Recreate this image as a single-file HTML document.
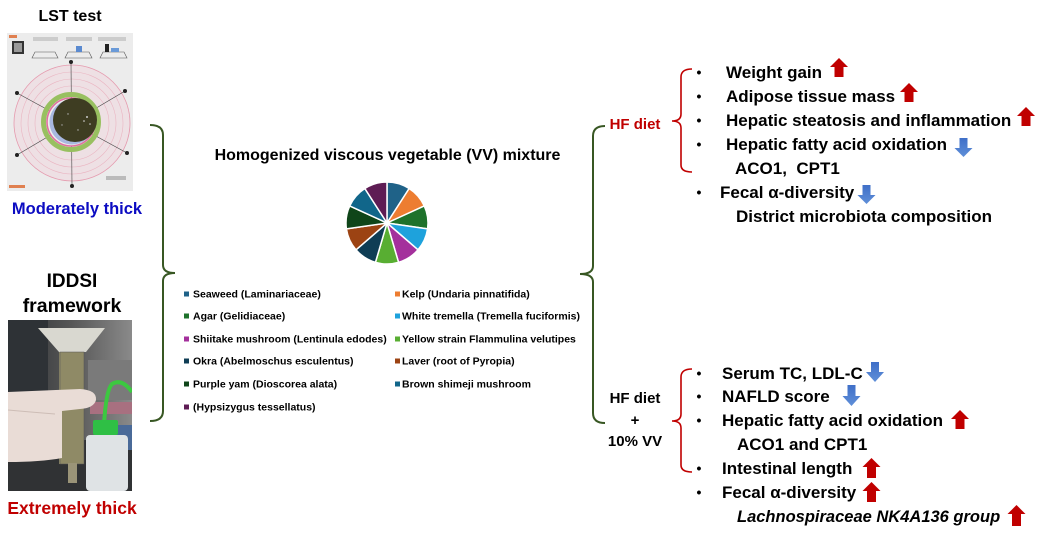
<!DOCTYPE html>
<html><head><meta charset="utf-8">
<style>
html,body{margin:0;padding:0;background:#fff;}
svg{display:block;}
text{font-family:"Liberation Sans",Arial,sans-serif;font-weight:bold;}
</style></head>
<body>
<svg width="1039" height="535" viewBox="0 0 1039 535" xmlns="http://www.w3.org/2000/svg">
<defs>
<clipPath id="c1"><rect x="7" y="33" width="126" height="158"/></clipPath>
<clipPath id="c2"><rect x="8" y="320" width="124" height="171"/></clipPath>
<linearGradient id="bg2" x1="0" y1="0" x2="1" y2="0">
<stop offset="0" stop-color="#2c3034"/><stop offset="0.5" stop-color="#555"/><stop offset="1" stop-color="#8a8a8a"/>
</linearGradient>
<linearGradient id="bd" x1="0" y1="0" x2="0" y2="1">
<stop offset="0" stop-color="#3f6fc8"/><stop offset="1" stop-color="#5f8fd8"/>
</linearGradient>
</defs>

<!-- LST photo -->
<g clip-path="url(#c1)">
<rect x="7" y="33" width="126" height="158" fill="#ececec"/>
<rect x="9" y="35" width="8" height="3" fill="#e08050"/>
<rect x="12" y="41" width="12" height="13" fill="#333"/>
<rect x="14" y="43" width="8" height="9" fill="#999"/>
<polygon points="32,58 58,58 55,52 35,52" fill="none" stroke="#555" stroke-width="0.6"/>
<polygon points="65,58 92,58 89,52 68,52" fill="none" stroke="#555" stroke-width="0.6"/>
<polygon points="100,58 127,58 124,52 103,52" fill="none" stroke="#555" stroke-width="0.6"/>
<rect x="76" y="46" width="6" height="6" fill="#5a8ad0"/>
<rect x="105" y="44" width="4" height="8" fill="#222"/>
<rect x="111" y="48" width="8" height="4" fill="#6a9ad8"/>
<rect x="33" y="37" width="25" height="4" fill="#ccc"/>
<rect x="66" y="37" width="26" height="4" fill="#ccc"/>
<rect x="98" y="37" width="28" height="4" fill="#ccc"/>
<circle cx="72" cy="123" r="58" fill="#eee0e4" stroke="#e59aae" stroke-width="0.8"/>
<circle cx="72" cy="123" r="51" fill="none" stroke="#eab5c2" stroke-width="0.6"/>
<circle cx="72" cy="123" r="44" fill="none" stroke="#eab5c2" stroke-width="0.6"/>
<circle cx="72" cy="123" r="37" fill="none" stroke="#eab5c2" stroke-width="0.6"/>
<line x1="71" y1="62" x2="72" y2="186" stroke="#444" stroke-width="0.6"/>
<line x1="17" y1="93" x2="127" y2="153" stroke="#444" stroke-width="0.6"/>
<line x1="17" y1="155" x2="125" y2="91" stroke="#444" stroke-width="0.6"/>
<circle cx="71" cy="62" r="2" fill="#222"/>
<circle cx="72" cy="186" r="2" fill="#222"/>
<circle cx="17" cy="93" r="2" fill="#222"/>
<circle cx="125" cy="91" r="2" fill="#222"/>
<circle cx="17" cy="155" r="2" fill="#222"/>
<circle cx="127" cy="153" r="2" fill="#222"/>
<circle cx="71" cy="122" r="27.5" fill="none" stroke="#98c060" stroke-width="5"/>
<circle cx="71" cy="122" r="24" fill="#eee" stroke="#e070a0" stroke-width="1.6"/>
<circle cx="72" cy="122" r="22.5" fill="#a8b8e0"/>
<ellipse cx="75" cy="120" rx="22" ry="22" fill="#3e3d22"/>
<circle cx="87" cy="117" r="1" fill="#ccc"/><circle cx="84" cy="121" r="0.8" fill="#ddd"/>
<circle cx="90" cy="124" r="0.8" fill="#ccc"/><circle cx="68" cy="114" r="0.7" fill="#bbb"/>
<circle cx="62" cy="125" r="0.7" fill="#aaa"/><circle cx="78" cy="130" r="0.7" fill="#bbb"/>
<rect x="9" y="185" width="16" height="3" fill="#e08050"/>
<rect x="106" y="176" width="20" height="4" fill="#bbb"/>
</g>

<!-- IDDSI photo -->
<g clip-path="url(#c2)">
<rect x="8" y="320" width="124" height="171" fill="url(#bg2)"/>
<rect x="8" y="320" width="40" height="171" fill="#2e3236"/>
<rect x="8" y="440" width="124" height="51" fill="#303234"/>
<rect x="90" y="402" width="42" height="12" fill="#a87080"/>
<rect x="88" y="360" width="44" height="40" fill="#7a7a7a"/>
<rect x="115" y="425" width="17" height="25" fill="#4a6a98"/>
<path d="M38,328 L105,328 L86,352 L59,352 Z" fill="#d9d8d0"/>
<rect x="59" y="352" width="25" height="112" fill="#8f8a66"/>
<rect x="60" y="352" width="24" height="112" fill="none" stroke="#555" stroke-width="0.5"/>
<rect x="68" y="463" width="9" height="20" fill="#9a9478"/>
<path d="M8,392 L80,389 Q97,390 96,400 Q94,408 80,409 L62,411 L62,458 Q40,462 8,462 Z" fill="#e9dcd6"/>
<path d="M8,410 Q30,412 55,414" fill="none" stroke="#cdbdb6" stroke-width="1"/>
<path d="M104,425 Q106,390 112,384 Q122,378 132,392" fill="none" stroke="#3cc840" stroke-width="4"/>
<rect x="93" y="420" width="25" height="15" rx="2" fill="#2fbf45"/>
<rect x="86" y="435" width="42" height="56" rx="4" fill="#dfe3e5"/>
</g>

<!-- Left labels -->
<text x="70" y="21" font-size="16" text-anchor="middle" fill="#000">LST test</text>
<text x="77" y="214" font-size="16.5" text-anchor="middle" fill="#0c0cc2">Moderately thick</text>
<text x="72" y="287" font-size="19" text-anchor="middle" fill="#000">IDDSI</text>
<text x="72" y="312" font-size="19.5" text-anchor="middle" fill="#000">framework</text>
<text x="72" y="514" font-size="17.5" text-anchor="middle" fill="#c00000">Extremely thick</text>

<!-- Green brackets -->
<path d="M150,125 Q163,125 163,135 L163,265 Q163,273 175,273 Q163,273 163,281 L163,411 Q163,421 150,421" fill="none" stroke="#385723" stroke-width="2"/>
<path d="M605,126 Q593,126 593,136 L593,266 Q593,274 580,274 Q593,274 593,282 L593,413 Q593,423 605,423" fill="none" stroke="#385723" stroke-width="2"/>

<!-- Title -->
<text x="387.5" y="160" font-size="16" text-anchor="middle" fill="#000">Homogenized viscous vegetable (VV) mixture</text>

<!-- Pie -->
<g stroke="#fff" stroke-width="1.5" stroke-linejoin="round">
<path d="M387,223 L387,182 A41,41 0 0 1 409.16,188.51 Z" fill="#1f6288"/>
<path d="M387,223 L409.16,188.51 A41,41 0 0 1 424.29,205.97 Z" fill="#ed7d31"/>
<path d="M387,223 L424.29,205.97 A41,41 0 0 1 427.58,228.83 Z" fill="#1e722b"/>
<path d="M387,223 L427.58,228.83 A41,41 0 0 1 417.98,249.85 Z" fill="#1ea2dc"/>
<path d="M387,223 L417.98,249.85 A41,41 0 0 1 398.55,262.34 Z" fill="#a4309c"/>
<path d="M387,223 L398.55,262.34 A41,41 0 0 1 375.45,262.34 Z" fill="#58ae32"/>
<path d="M387,223 L375.45,262.34 A41,41 0 0 1 356.02,249.85 Z" fill="#0f3d55"/>
<path d="M387,223 L356.02,249.85 A41,41 0 0 1 346.42,228.83 Z" fill="#9c4313"/>
<path d="M387,223 L346.42,228.83 A41,41 0 0 1 349.71,205.97 Z" fill="#0f4519"/>
<path d="M387,223 L349.71,205.97 A41,41 0 0 1 364.84,188.51 Z" fill="#11668a"/>
<path d="M387,223 L364.84,188.51 A41,41 0 0 1 387,182 Z" fill="#5e1c54"/>
</g>

<!-- Legend -->
<g font-size="10.5" fill="#000">
<rect x="184" y="291.5" width="5" height="5" fill="#1f6288"/><text x="193" y="297.5">Seaweed (Laminariaceae)</text>
<rect x="184" y="313.5" width="5" height="5" fill="#1e722b"/><text x="193" y="319.5">Agar (Gelidiaceae)</text>
<rect x="184" y="336.5" width="5" height="5" fill="#a4309c"/><text x="193" y="342.5">Shiitake mushroom (Lentinula edodes)</text>
<rect x="184" y="358.5" width="5" height="5" fill="#0f3d55"/><text x="193" y="364.5">Okra (Abelmoschus esculentus)</text>
<rect x="184" y="381.5" width="5" height="5" fill="#0f4519"/><text x="193" y="387.5">Purple yam (Dioscorea alata)</text>
<rect x="184" y="404.5" width="5" height="5" fill="#5e1c54"/><text x="193" y="410.5">(Hypsizygus tessellatus)</text>
<rect x="395" y="291.5" width="5" height="5" fill="#ed7d31"/><text x="402" y="297.5">Kelp (Undaria pinnatifida)</text>
<rect x="395" y="313.5" width="5" height="5" fill="#1ea2dc"/><text x="402" y="319.5">White tremella (Tremella fuciformis)</text>
<rect x="395" y="336.5" width="5" height="5" fill="#58ae32"/><text x="402" y="342.5">Yellow strain Flammulina velutipes</text>
<rect x="395" y="358.5" width="5" height="5" fill="#9c4313"/><text x="402" y="364.5">Laver (root of Pyropia)</text>
<rect x="395" y="381.5" width="5" height="5" fill="#11668a"/><text x="402" y="387.5">Brown shimeji mushroom</text>
</g>

<!-- HF diet labels -->
<text x="635" y="129" font-size="15" text-anchor="middle" fill="#c00000">HF diet</text>
<text x="635" y="403" font-size="15" text-anchor="middle" fill="#000">HF diet</text>
<text x="635" y="425" font-size="15" text-anchor="middle" fill="#000">+</text>
<text x="635" y="446" font-size="15" text-anchor="middle" fill="#000">10% VV</text>

<!-- Red brackets -->
<path d="M692,69 Q681,69 681,77 L681,114 Q681,121 672,121 Q681,121 681,128 L681,165 Q681,172 692,172" fill="none" stroke="#c00000" stroke-width="1.6"/>
<path d="M692,369 Q681,369 681,377 L681,414 Q681,421 672,421 Q681,421 681,428 L681,465 Q681,472 692,472" fill="none" stroke="#c00000" stroke-width="1.6"/>

<!-- Top list -->
<g font-size="17" fill="#000">
<text x="699" y="77" font-size="14" text-anchor="middle">•</text>
<text x="726" y="78">Weight gain</text>
<text x="699" y="101" font-size="14" text-anchor="middle">•</text>
<text x="726" y="102">Adipose tissue mass</text>
<text x="699" y="125" font-size="14" text-anchor="middle">•</text>
<text x="726" y="126">Hepatic steatosis and inflammation</text>
<text x="699" y="149" font-size="14" text-anchor="middle">•</text>
<text x="726" y="150">Hepatic fatty acid oxidation</text>
<text x="735" y="174" xml:space="preserve">ACO1,  CPT1</text>
<text x="699" y="197" font-size="14" text-anchor="middle">•</text>
<text x="720" y="198">Fecal α-diversity</text>
<text x="736" y="222">District microbiota composition</text>
</g>

<!-- Bottom list -->
<g font-size="17" fill="#000">
<text x="699" y="378" font-size="14" text-anchor="middle">•</text>
<text x="722" y="379">Serum TC, LDL-C</text>
<text x="699" y="401" font-size="14" text-anchor="middle">•</text>
<text x="722" y="402">NAFLD score</text>
<text x="699" y="425" font-size="14" text-anchor="middle">•</text>
<text x="722" y="426">Hepatic fatty acid oxidation</text>
<text x="737" y="450">ACO1 and CPT1</text>
<text x="699" y="473" font-size="14" text-anchor="middle">•</text>
<text x="722" y="474">Intestinal length</text>
<text x="699" y="497" font-size="14" text-anchor="middle">•</text>
<text x="722" y="498">Fecal α-diversity</text>
<text x="737" y="522" font-size="16.5" font-style="italic">Lachnospiraceae NK4A136 group</text>
</g>

<!-- Up arrows (red) -->
<g fill="#c00000">
<polygon points="839,58 848,67 843.5,67 843.5,77 834.5,77 834.5,67 830,67"/>
<polygon points="909,83 918,92 913.5,92 913.5,102 904.5,102 904.5,92 900,92"/>
<polygon points="1026,107 1035,116 1030.5,116 1030.5,126 1021.5,126 1021.5,116 1017,116"/>
<polygon points="960,410 969,419 964.5,419 964.5,429 955.5,429 955.5,419 951,419"/>
<polygon points="871.5,458 880.5,467 876,467 876,478 867,478 867,467 862.5,467"/>
<polygon points="871.5,482 880.5,491 876,491 876,502 867,502 867,491 862.5,491"/>
<polygon points="1016.5,505 1025.5,514 1021,514 1021,526 1012,526 1012,514 1007.5,514"/>
</g>

<!-- Down arrows (blue) -->
<g fill="url(#bd)">
<polygon points="959.5,138 967.5,138 967.5,148 972.5,148 963.5,157 954.5,148 959.5,148"/>
<polygon points="862.5,185 870.5,185 870.5,195 875.5,195 866.5,204 857.5,195 862.5,195"/>
<polygon points="871,362 879,362 879,372 884,372 875,382 866,372 871,372"/>
<polygon points="847.5,385 855.5,385 855.5,396 860.5,396 851.5,406 842.5,396 847.5,396"/>
</g>
</svg>
</body></html>
